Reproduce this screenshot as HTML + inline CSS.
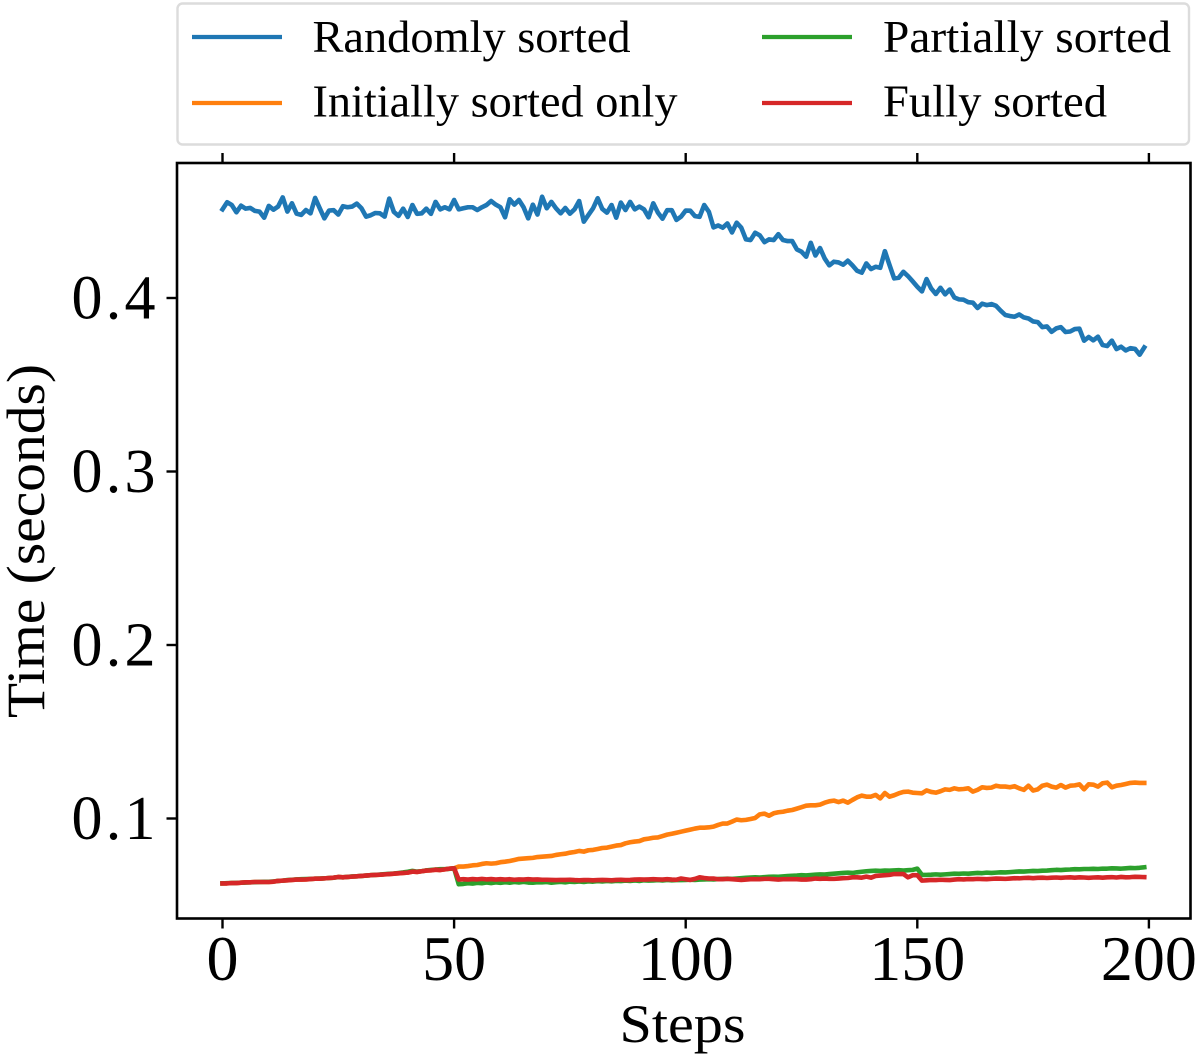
<!DOCTYPE html>
<html lang="en">
<head>
<meta charset="utf-8">
<title>Time per step by sorting strategy</title>
<style>
html,body{margin:0;padding:0;background:#fff;}
svg{display:block;}
text{font-family:"Liberation Serif","DejaVu Serif",serif;fill:#000;}
</style>
</head>
<body>
<svg id="chart" xmlns="http://www.w3.org/2000/svg" width="1200" height="1054" viewBox="0 0 1200 1054">
  <rect x="0" y="0" width="1200" height="1054" fill="#fff"/>
  <g id="marks"></g>
  <rect x="177" y="163" width="1013.5" height="755.5" fill="none" stroke="#000" stroke-width="2.6"/>
  <g id="ticks"></g>
  <text x="682.5" y="1042" font-size="54" text-anchor="middle" textLength="126" lengthAdjust="spacingAndGlyphs">Steps</text>
  <text transform="translate(44 541) rotate(-90)" x="0" y="0" font-size="54" text-anchor="middle" textLength="354" lengthAdjust="spacingAndGlyphs">Time (seconds)</text>
  <g>
    <rect x="177.5" y="3.5" width="1011.5" height="141" rx="5" ry="5" fill="#fff" stroke="#dcdcdc" stroke-width="2.4"/>
    <g>
      <line x1="192" y1="37" x2="282" y2="37" stroke="#1f77b4" stroke-width="4.2"/>
      <text x="312.5" y="52" font-size="46" textLength="318" lengthAdjust="spacingAndGlyphs">Randomly sorted</text>
    </g>
    <g>
      <line x1="192" y1="103" x2="282" y2="103" stroke="#ff7f0e" stroke-width="4.2"/>
      <text x="312.5" y="116.5" font-size="46" textLength="365" lengthAdjust="spacingAndGlyphs">Initially sorted only</text>
    </g>
    <g>
      <line x1="762" y1="37" x2="852" y2="37" stroke="#2ca02c" stroke-width="4.2"/>
      <text x="883" y="52" font-size="46" textLength="288" lengthAdjust="spacingAndGlyphs">Partially sorted</text>
    </g>
    <g>
      <line x1="762" y1="103" x2="852" y2="103" stroke="#d62728" stroke-width="4.2"/>
      <text x="883" y="116.5" font-size="46" textLength="224" lengthAdjust="spacingAndGlyphs">Fully sorted</text>
    </g>
  </g>
</svg>
<script>
const xTickValues = [0, 50, 100, 150, 200];
const yTickValues = [0.1, 0.2, 0.3, 0.4];
const yTickLabels = ["0.1", "0.2", "0.3", "0.4"];

const randomlySorted = [
.4511,.4552,.4536,.4494,.4532,.4515,.4519,.4502,.4498,.4463,
.4531,.4509,.4527,.4580,.4498,.4546,.4486,.4479,.4507,.4488,
.4577,.4517,.4459,.4504,.4506,.4481,.4529,.4523,.4527,.4544,
.4517,.4469,.4477,.4490,.4488,.4469,.4573,.4496,.4473,.4515,
.4467,.4536,.4485,.4488,.4515,.4485,.4554,.4511,.4523,.4511,
.4565,.4511,.4517,.4523,.4523,.4507,.4523,.4536,.4559,.4538,
.4523,.4465,.4569,.4538,.4565,.4523,.4459,.4538,.4481,.4584,
.4517,.4554,.4517,.4488,.4519,.4486,.4511,.4559,.4440,.4479,
.4517,.4575,.4513,.4492,.4536,.4463,.4550,.4507,.4554,.4511,
.4527,.4511,.4465,.4546,.4492,.4457,.4506,.4506,.4450,.4469,
.4504,
.4503,.4472,.4468,.4536,.4497,.4407,.4418,.4405,.4430,.4378,
.4434,.4405,.4338,.4334,.4376,.4361,.4322,.4338,.4334,.4368,
.4334,.4328,.4328,.4280,.4267,.4238,.4318,.4245,.4288,.4228,
.4188,.4209,.4205,.4192,.4215,.4188,.4157,.4146,.4199,.4167,
.4180,.4174,.4270,.4190,.4113,.4117,.4151,.4126,.4096,.4065,
.4038,.4109,.4055,.4023,.4059,.4021,.4049,.4003,.3992,.3990,
.3976,.3973,.3942,.3967,.3959,.3965,.3955,.3927,.3902,.3896,
.3892,.3905,.3888,.3882,.3865,.3861,.3832,.3836,.3805,.3825,
.3832,.3804,.3807,.3821,.3823,.3754,.3775,.3756,.3777,.3729,
.3723,.3754,.3706,.3719,.3698,.3711,.3707,.3673,.3715];

const initiallySortedOnly = [
.0626,.0626,.0628,.0628,.0630,.0632,.0632,.0634,.0634,.0634,
.0634,.0636,.0640,.0642,.0644,.0646,.0648,.0648,.0649,.0651,
.0653,.0653,.0655,.0657,.0659,.0663,.0661,.0663,.0665,.0667,
.0669,.0671,.0673,.0675,.0676,.0678,.0680,.0682,.0684,.0686,
.0688,.0694,.0692,.0696,.0700,.0701,.0705,.0703,.0707,.0711,
.0713,
.0723,.0723,.0726,.0730,.0732,.0738,.0742,.0740,.0742,.0748,
.0751,.0755,.0761,.0767,.0769,.0771,.0773,.0778,.0780,.0782,
.0784,.0790,.0794,.0797,.0803,.0807,.0813,.0809,.0817,.0819,
.0824,.0830,.0832,.0838,.0844,.0847,.0857,.0863,.0867,.0870,
.0880,.0884,.0889,.0891,.0899,.0907,.0912,.0918,
.0924,.0930,.0936,.0942,.0947,.0947,.0949,.0953,.0963,.0971,
.0971,.0982,.0994,.0990,.0992,.0997,.1003,.1024,.1028,.1016,
.1030,.1036,.1039,.1045,.1049,.1057,.1065,.1074,.1076,.1076,
.1080,.1091,.1099,.1103,.1095,.1103,.1091,.1107,.1122,.1132,
.1126,.1126,.1136,.1116,.1147,.1126,.1134,.1145,.1153,.1155,
.1149,.1147,.1145,.1162,.1153,.1149,.1157,.1168,.1165,.1174,
.1168,.1170,.1174,.1155,.1165,.1180,.1176,.1178,.1189,.1184,
.1184,.1180,.1186,.1174,.1165,.1189,.1161,.1168,.1189,.1195,
.1184,.1178,.1193,.1178,.1189,.1191,.1197,.1168,.1197,.1195,
.1184,.1203,.1207,.1180,.1189,.1193,.1199,.1205,.1207,.1205,
.1205];

const partiallySorted = [
.0626,.0627,.0628,.0629,.0630,.0631,.0632,.0633,.0634,.0635,
.0635,.0637,.0640,.0642,.0645,.0647,.0649,.0650,.0651,.0652,
.0653,.0654,.0655,.0657,.0659,.0662,.0661,.0663,.0666,.0667,
.0669,.0671,.0673,.0675,.0677,.0679,.0681,.0683,.0686,.0689,
.0693,.0698,.0694,.0696,.0701,.0704,.0706,.0708,.0708,.0710,
.0713,
.0621,.0623,.0627,.0625,.0629,.0627,.0631,.0628,.0632,.0629,
.0633,.0630,.0634,.0631,.0635,.0631,.0630,.0633,.0632,.0634,
.0630,.0633,.0635,.0632,.0636,.0634,.0637,.0634,.0638,.0636,
.0639,.0637,.0640,.0638,.0641,.0639,.0642,.0640,.0643,.0640,
.0644,.0642,.0643,.0645,.0643,.0646,.0644,.0645,
.0645,.0646,.0647,.0646,.0648,.0649,.0650,.0649,.0651,.0652,
.0653,.0652,.0654,.0656,
.0658,.0660,.0661,.0660,.0662,.0664,.0665,.0664,.0666,.0668,.0670,.0671,
.0673,.0672,.0674,.0676,.0678,.0677,.0680,.0682,.0684,.0686,.0688,.0686,.0690,.0693,.0696,
.0698,.0699,.0698,.0700,.0699,.0701,.0702,.0700,.0702,.0704,.0711,
.0675,.0675,.0676,.0678,.0676,.0678,.0680,.0682,.0681,.0683,
.0682,.0684,.0686,.0685,.0688,.0686,.0688,.0690,.0689,.0691,
.0693,.0695,.0694,.0696,.0698,.0697,.0699,.0700,.0702,.0704,
.0703,.0705,.0706,.0708,.0707,.0709,.0709,.0710,.0709,.0711,
.0711,.0713,.0712,.0711,.0713,.0715,.0714,.0716,.0719];

const fullySorted = [
.0626,.0626,.0628,.0628,.0630,.0632,.0632,.0634,.0634,.0634,
.0634,.0636,.0640,.0642,.0644,.0646,.0648,.0648,.0649,.0651,
.0653,.0653,.0655,.0657,.0659,.0663,.0661,.0663,.0665,.0667,
.0669,.0671,.0673,.0675,.0676,.0678,.0680,.0682,.0684,.0686,
.0688,.0694,.0692,.0696,.0700,.0701,.0705,.0703,.0707,.0711,
.0713,
.0648,.0650,.0648,.0651,.0649,.0652,.0649,.0651,.0648,.0650,
.0648,.0650,.0647,.0649,.0648,.0650,.0648,.0649,.0647,.0647,
.0646,.0645,.0646,.0646,.0647,.0645,.0644,.0645,.0645,.0644,
.0645,.0646,.0645,.0644,.0646,.0647,.0645,.0646,.0648,.0649,
.0648,.0649,.0650,.0649,.0648,.0650,.0648,.0647,
.0654,.0650,.0646,.0652,.0661,.0657,.0654,.0654,.0650,.0650,
.0652,.0650,.0648,.0646,.0648,.0650,.0650,.0650,.0652,.0652,
.0650,.0648,.0650,.0650,.0650,.0650,.0648,.0648,.0650,.0654,
.0652,.0654,.0652,.0652,.0654,.0656,.0657,.0661,.0661,.0659,
.0665,.0659,.0669,.0671,.0673,.0675,.0680,.0680,.0680,.0661,
.0673,.0673,.0642,
.0644,.0646,.0645,.0647,.0646,.0645,.0648,.0650,.0649,.0651,
.0650,.0652,.0651,.0650,.0652,.0654,.0653,.0652,.0654,.0656,
.0655,.0657,.0658,.0656,.0658,.0659,.0657,.0659,.0660,.0658,
.0660,.0661,.0659,.0661,.0660,.0658,.0660,.0661,.0659,.0661,
.0662,.0660,.0663,.0661,.0662,.0664,.0663,.0662];

const NS = "http://www.w3.org/2000/svg";
function xScale(step) { return 222.5 + step * 4.632; }
function yScale(v) { return 818.5 - (v - 0.1) * 1735; }

function make(tag, attrs) {
  const el = document.createElementNS(NS, tag);
  for (const k in attrs) el.setAttribute(k, attrs[k]);
  return el;
}

const marks = document.getElementById("marks");
function drawSeries(values, color, name) {
  const pts = values.map(function (v, i) {
    return xScale(i).toFixed(2) + "," + yScale(v).toFixed(2);
  }).join(" ");
  const line = make("polyline", {
    points: pts, fill: "none", stroke: color, "stroke-width": 4.6,
    "stroke-linejoin": "round", "stroke-linecap": "square"
  });
  
  
  marks.appendChild(line);
}
drawSeries(randomlySorted, "#1f77b4", "series-randomly-sorted");
drawSeries(initiallySortedOnly, "#ff7f0e", "series-initially-sorted-only");
drawSeries(partiallySorted, "#2ca02c", "series-partially-sorted");
drawSeries(fullySorted, "#d62728", "series-fully-sorted");

const ticks = document.getElementById("ticks");
xTickValues.forEach(function (v) {
  const x = xScale(v);
  const bottom = make("line", { x1: x, y1: 918.5, x2: x, y2: 928.5, stroke: "#000", "stroke-width": 2.4 });
  
  
  ticks.appendChild(bottom);
  const top = make("line", { x1: x, y1: 163, x2: x, y2: 153, stroke: "#000", "stroke-width": 2.4 });
  
  
  ticks.appendChild(top);
  const label = make("text", { x: x, y: 980, "font-size": 64, "text-anchor": "middle" });
  
  
  label.textContent = String(v);
  ticks.appendChild(label);
});
yTickValues.forEach(function (v, i) {
  const y = yScale(v);
  const mark = make("line", { x1: 166.5, y1: y, x2: 177, y2: y, stroke: "#000", "stroke-width": 2.4 });
  
  
  ticks.appendChild(mark);
  const label = make("text", { x: 155.5, y: y + 20.5, "font-size": 62, "text-anchor": "end", textLength: 84, lengthAdjust: "spacing" });
  
  
  label.textContent = yTickLabels[i];
  ticks.appendChild(label);
});
</script>
</body>
</html>
